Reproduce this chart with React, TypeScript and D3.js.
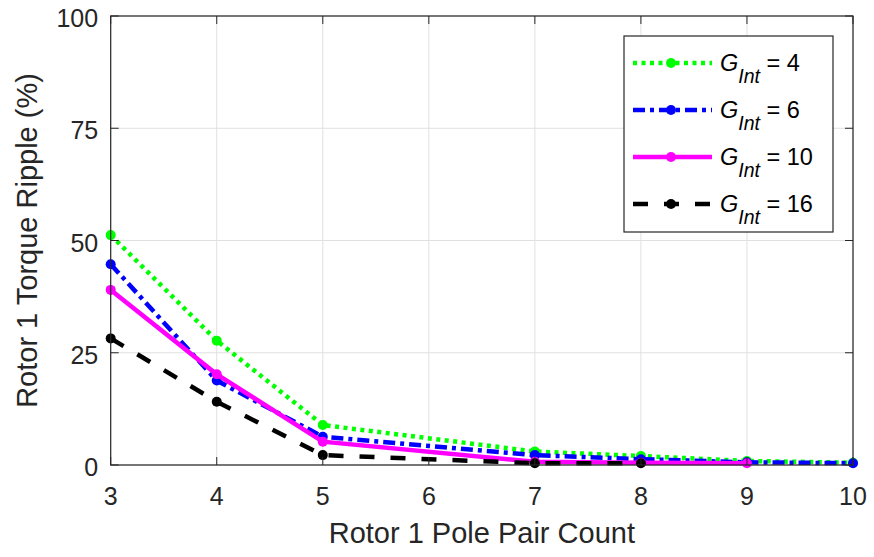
import React from "react";
import * as d3 from "d3";

const xTicks = [3, 4, 5, 6, 7, 8, 9, 10];
const yTicks = [0, 25, 50, 75, 100];

const xG4 = [3, 4, 5, 7, 8, 9, 10];
const yG4 = [51.2, 27.7, 8.9, 3.0, 2.0, 0.9, 0.5];
const xG6 = [3, 4, 5, 7, 8, 9, 10];
const yG6 = [44.7, 18.8, 6.3, 2.2, 1.3, 0.6, 0.4];
const xG10 = [3, 4, 5, 7, 8, 9];
const yG10 = [39.0, 20.2, 5.2, 0.7, 0.5, 0.4];
const xG16 = [3, 4, 5, 7, 8];
const yG16 = [28.2, 14.1, 2.2, 0.4, 0.4];

const seriesNames = ["4", "6", "10", "16"];

export default function App() {
  const W = 874, H = 557;
  const L = 110.7, R = 853, T = 16, B = 465;
  const x = d3.scaleLinear().domain([3, 10]).range([L, R]);
  const y = d3.scaleLinear().domain([0, 100]).range([B, T]);
  const line = d3.line<[number, number]>().x(d => x(d[0])).y(d => y(d[1]));
  const font = "'Liberation Sans', Arial, sans-serif";
  const ink = "#262626";

  const series = [
    { xs: xG4, ys: yG4, color: "#00ff00", dash: "4,4.5", name: seriesNames[0] },
    { xs: xG6, ys: yG6, color: "#0000ff", dash: "12,5,4,5", name: seriesNames[1] },
    { xs: xG10, ys: yG10, color: "#ff00ff", dash: "", name: seriesNames[2] },
    { xs: xG16, ys: yG16, color: "#000000", dash: "15,16", name: seriesNames[3] },
  ];

  return (
    <svg width={W} height={H} style={{ position: "absolute", left: 0, top: 0 }}>
      <rect x={0} y={0} width={W} height={H} fill="#fff" />
      <rect x={L} y={T} width={R - L} height={B - T} fill="#fff" />
      {xTicks.map(t => (
        <line key={"gx" + t} x1={x(t)} x2={x(t)} y1={T} y2={B} stroke="#e0e0e0" strokeWidth={1} />
      ))}
      {yTicks.map(t => (
        <line key={"gy" + t} x1={L} x2={R} y1={y(t)} y2={y(t)} stroke="#e0e0e0" strokeWidth={1} />
      ))}
      {series.map((s, i) => {
        const pts: [number, number][] = s.xs.map((v, j) => [v, s.ys[j]]);
        return (
          <g key={i}>
            <path d={line(pts) || ""} fill="none" stroke={s.color} strokeWidth={4.5}
              strokeDasharray={s.dash || undefined} />
            {pts.map((p, j) => (
              <circle key={j} cx={x(p[0])} cy={y(p[1])} r={5} fill={s.color} />
            ))}
          </g>
        );
      })}
      <rect x={L} y={T} width={R - L} height={B - T} fill="none" stroke={ink} strokeWidth={1.2} />
      {xTicks.map(t => (
        <g key={"tx" + t}>
          <line x1={x(t)} x2={x(t)} y1={B} y2={B - 8} stroke={ink} />
          <line x1={x(t)} x2={x(t)} y1={T} y2={T + 8} stroke={ink} />
          <text x={x(t)} y={B + 40} textAnchor="middle" fontSize={25} fontFamily={font} fill={ink}>{t}</text>
        </g>
      ))}
      {yTicks.map(t => (
        <g key={"ty" + t}>
          <line x1={L} x2={L + 8} y1={y(t)} y2={y(t)} stroke={ink} />
          <line x1={R} x2={R - 8} y1={y(t)} y2={y(t)} stroke={ink} />
          <text x={L - 12.5} y={y(t) + 11} textAnchor="end" fontSize={25} fontFamily={font} fill={ink}>{t}</text>
        </g>
      ))}
      <text x={(L + R) / 2} y={543} textAnchor="middle" fontSize={29} fontFamily={font} fill={ink}>Rotor 1 Pole Pair Count</text>
      <text transform={`translate(37,${(T + B) / 2}) rotate(-90)`} textAnchor="middle" fontSize={29} fontFamily={font} fill={ink}>Rotor 1 Torque Ripple (%)</text>
      <g>
        <rect x={624} y={36} width={209} height={196} fill="#fff" stroke={ink} strokeWidth={1.2} />
        {series.map((s, i) => {
          const ly = 63 + i * 47;
          return (
            <g key={"lg" + i}>
              <line x1={633} x2={712} y1={ly} y2={ly} stroke={s.color} strokeWidth={4.5}
                strokeDasharray={s.dash || undefined} />
              <circle cx={671} cy={ly} r={5} fill={s.color} />
              <text x={720} y={ly + 8} fontSize={23.5} fontFamily={font} fill="#000">
                <tspan fontStyle="italic">G</tspan>
                <tspan fontStyle="italic" fontSize={19.5} dy={12}>Int</tspan>
                <tspan dy={-12}>{" = " + s.name}</tspan>
              </text>
            </g>
          );
        })}
      </g>
    </svg>
  );
}
